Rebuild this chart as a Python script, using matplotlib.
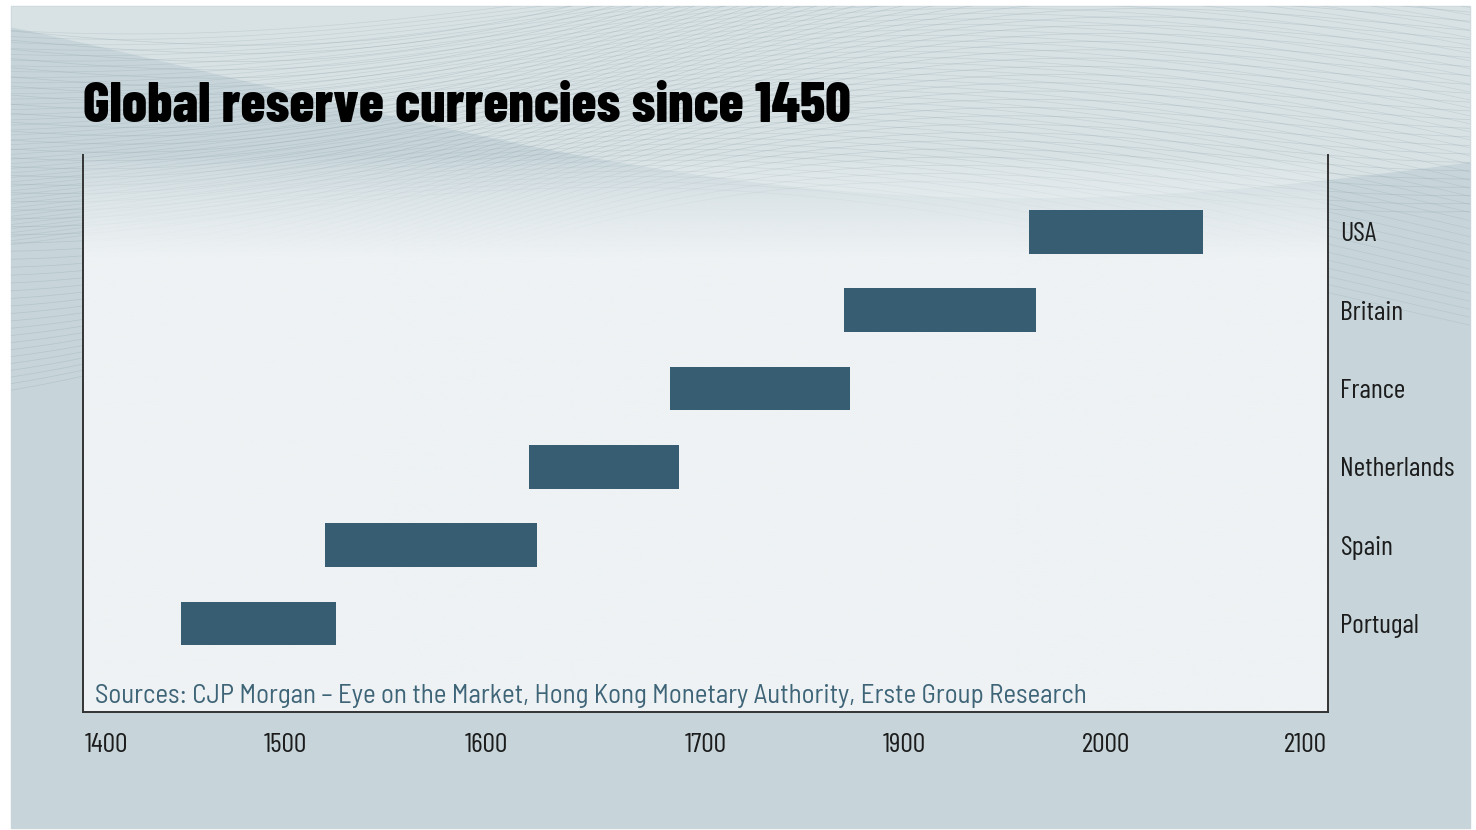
import numpy as np
import matplotlib.pyplot as plt
from matplotlib.patches import Rectangle

countries = ['Portugal', 'Spain', 'Netherlands', 'France', 'Britain', 'USA']
start = [1455, 1536, 1651, 1730, 1828, 1932]
end = [1542, 1655, 1735, 1831, 1936, 2030]
tick_labels = ['1400', '1500', '1600', '1700', '1900', '2000', '2100']
tick_pos = [1413, 1514, 1627, 1750, 1862, 1975, 2087]

plt.rcParams['font.family'] = ['Barlow Condensed', 'DejaVu Sans']

fig = plt.figure(figsize=(14.76, 8.30), dpi=100)
fig.patch.set_facecolor('white')

# background panel with a wavy mesh
bg = fig.add_axes([0, 0, 1, 1])
bg.set_xlim(0, 1476)
bg.set_ylim(830, 0)
bg.axis('off')
panel = Rectangle((11, 6), 1459, 822, color='#c7d5da', zorder=0)
bg.add_patch(panel)
xx = np.linspace(11, 1470, 500)
# lighter wave band at the top
top_w = 70 + 80 * np.sin((xx - 250) / 420) + 0.05 * (xx - 11)
bg.fill_between(xx, 6, np.clip(top_w, 6, 300), color='#d8e2e5', zorder=0.5, lw=0)
for k in range(45):
    y1 = 30 + k * 7 + 55 * np.sin(xx / 260 + k * 0.04) - 0.12 * xx
    l1, = bg.plot(xx, y1, color='#8a9ea5', lw=0.5, alpha=0.3, zorder=1)
    l1.set_clip_path(panel)
    y2 = -40 + k * 6 + 70 * np.sin(xx / 380 + 1.5 + k * 0.03) + 0.05 * xx
    l2, = bg.plot(xx, y2, color='#8a9ea5', lw=0.5, alpha=0.25, zorder=1)
    l2.set_clip_path(panel)

ax = fig.add_axes([83 / 1476, 1 - 712 / 830, 1245 / 1476, 557 / 830])
ax.set_facecolor('none')

# plot area: light fill fading into the background at the top
grad = np.zeros((200, 2, 4))
grad[..., :3] = np.array([0xee, 0xf2, 0xf4]) / 255
alpha = np.clip(np.linspace(0, 1, 200) / 0.18, 0, 1)
grad[..., 3] = alpha[:, None] ** 0.7
ax.imshow(grad, extent=[0, 1, 0, 1], transform=ax.transAxes, aspect='auto',
          origin='upper', zorder=0)

y = np.arange(len(countries))
widths = [e - s for s, e in zip(start, end)]
ax.barh(y, widths, left=start, height=0.56, color='#365d72', zorder=3)

ax.set_xlim(1400, 2100)
ax.set_ylim(-1.13, 5.98)

ax.yaxis.tick_right()
ax.set_yticks(y, countries)
ax.set_xticks(tick_pos, tick_labels)
ax.tick_params(axis='y', length=0, pad=9, labelsize=20, labelcolor='#1c1c1c')
ax.tick_params(axis='x', length=0, pad=15, labelsize=20, labelcolor='#1c1c1c')

ax.spines['top'].set_visible(False)
for s in ['left', 'right', 'bottom']:
    ax.spines[s].set_color('#333333')
    ax.spines[s].set_linewidth(1.4)

ax.text(0.0096, 0.016,
        'Sources: CJP Morgan \u2013 Eye on the Market, Hong Kong Monetary Authority, Erste Group Research',
        transform=ax.transAxes, fontsize=19.4, color='#3e6477', va='baseline', zorder=4,
        family=['Barlow Semi Condensed', 'DejaVu Sans'])

fig.text(83 / 1476, 1 - 122 / 830, 'Global reserve currencies since 1450',
         fontsize=40.4, fontweight=800, color='black', va='baseline')

fig.savefig('out.png', dpi=100)
